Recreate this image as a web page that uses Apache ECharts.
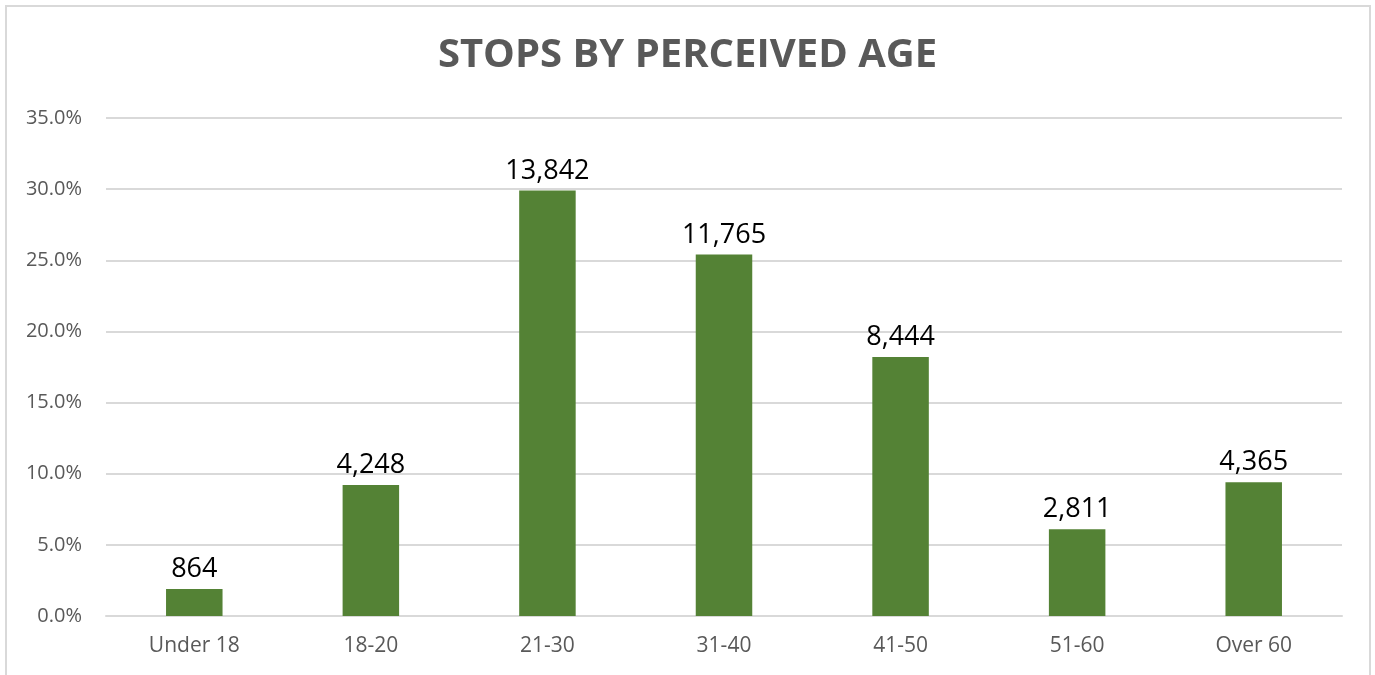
<!DOCTYPE html>
<html>
<head>
<meta charset="utf-8">
<script src="https://cdn.jsdelivr.net/npm/echarts@6/dist/echarts.min.js"></script>
<style>
  html, body { margin: 0; padding: 0; background: #fff; }
  #chart { width: 1375px; height: 675px; }
</style>
</head>
<body>
<div id="chart"></div>
<script>
const ageGroups = ['Under 18', '18-20', '21-30', '31-40', '41-50', '51-60', 'Over 60']
const sharePct = [1.9, 9.2, 29.9, 25.4, 18.2, 6.1, 9.4]
const stopCounts = ['864', '4,248', '13,842', '11,765', '8,444', '2,811', '4,365']

const chart = echarts.init(document.getElementById('chart'))
chart.setOption({
  backgroundColor: '#fff',
  animation: false,
  graphic: [{
    type: 'rect',
    shape: { x: 6, y: 6, width: 1364, height: 700 },
    style: { fill: 'none', stroke: '#d9d9d9', lineWidth: 2 },
    silent: true
  }],
  title: {
    text: 'STOPS BY PERCEIVED AGE',
    left: 'center',
    top: 31,
    textStyle: {
      color: '#595959',
      fontSize: 40,
      fontWeight: 'bold',
      fontFamily: 'Open Sans'
    }
  },
  grid: {
    left: 106,
    right: 33,
    top: 118,
    bottom: 59
  },
  xAxis: {
    type: 'category',
    data: ageGroups,
    axisLine: { lineStyle: { color: '#d9d9d9', width: 2 } },
    axisTick: { show: false },
    axisLabel: {
      color: '#595959',
      fontSize: 21,
      fontFamily: 'Open Sans',
      margin: 20
    }
  },
  yAxis: {
    type: 'value',
    min: 0,
    max: 35,
    interval: 5,
    axisLine: { show: false },
    axisTick: { show: false },
    splitLine: { lineStyle: { color: '#d9d9d9', width: 2 } },
    axisLabel: {
      color: '#595959',
      fontSize: 20,
      fontFamily: 'Open Sans',
      margin: 24,
      formatter: v => v.toFixed(1) + '%'
    }
  },
  series: [{
    type: 'bar',
    data: sharePct,
    barWidth: '32%',
    itemStyle: { color: '#548235' },
    label: {
      show: true,
      position: 'top',
      distance: 6,
      color: '#000',
      fontSize: 27,
      fontFamily: 'Open Sans',
      formatter: p => stopCounts[p.dataIndex]
    }
  }]
})
</script>
</body>
</html>
